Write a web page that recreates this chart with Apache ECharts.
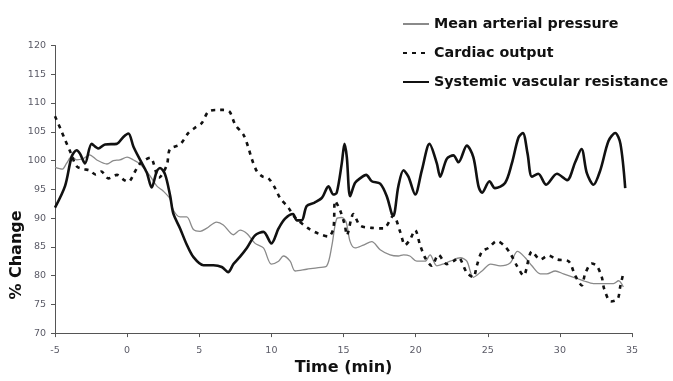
<!DOCTYPE html>
<html>
<head>
<meta charset="utf-8">
<script src="https://cdn.jsdelivr.net/npm/echarts@6/dist/echarts.min.js"></script>
<style>
  html, body { margin: 0; padding: 0; background: #fff; }
  #chart { width: 673px; height: 381px; }
</style>
</head>
<body>
<div id="chart"></div>
<script>
// time (min) and % change
const mapTime = [-5, -4.5, -4.2, -3.84, -3.5, -3.0, -2.6, -2.1, -1.4, -0.95, -0.5, 0, 0.44, 0.9, 1.6, 2.05, 2.5, 2.98, 3.2, 3.67,
  4.13, 4.6, 5.06, 5.5, 6.2, 6.67, 7.37, 7.83, 8.3, 8.87, 9.45, 10.0, 10.5, 10.83, 11.3, 11.65, 12.45, 13.26, 13.84, 14.2,
  14.53, 14.88, 15.18, 15.46, 15.8, 16.38, 16.96, 17.54, 18.23, 18.8, 19.16, 19.6, 20.08, 20.66, 21.0, 21.47, 21.9, 22.4, 23.1, 23.55,
  24.0, 24.6, 25.2, 25.86, 26.55, 27.06, 27.6, 28.06, 28.64, 29.1, 29.68, 30.25, 30.95, 31.64, 32.33, 33.03, 33.72, 34.07, 34.4];
const mapValue = [98.8, 98.5, 99.5, 100.7, 100.1, 100.4, 101.0, 100.1, 99.4, 100.0, 100.1, 100.6, 100.1, 99.4, 97.3, 95.6, 94.7, 93.3, 91.4, 90.2,
  90.2, 88.0, 87.7, 88.2, 89.3, 88.8, 87.1, 87.9, 87.3, 85.6, 84.8, 82.0, 82.5, 83.4, 82.5, 80.8, 81.1, 81.4, 81.7, 85.3,
  89.9, 90.1, 89.3, 85.9, 84.8, 85.3, 85.9, 84.5, 83.6, 83.4, 83.6, 83.4, 82.5, 82.5, 83.6, 81.7, 82.0, 82.5, 83.1, 82.5,
  79.7, 80.8, 82.0, 81.7, 82.2, 84.2, 83.1, 81.7, 80.3, 80.3, 80.8, 80.3, 79.7, 79.1, 78.6, 78.6, 78.6, 79.1, 78.0];

const coTime = [-5, -4.6, -4.3, -3.9, -3.5, -3.0, -2.6, -2.2, -1.8, -1.3, -0.7, -0.26, 0.08, 0.55, 0.9, 1.6, 2.2, 2.75, 2.97, 3.67,
  4.25, 4.7, 5.17, 5.63, 6.2, 6.67, 7.1, 7.5, 8.06, 8.4, 8.64, 9.0, 9.4, 9.8, 10.26, 10.6, 11.18, 11.64, 12.57, 13.26,
  13.96, 14.3, 14.42, 14.77, 15.1, 15.23, 15.69, 16.15, 16.96, 17.77, 18.46, 18.93, 19.27, 19.6, 19.97, 20.31, 20.66, 21.12, 21.58, 22.16,
  22.62, 22.97, 23.55, 24.0, 24.24, 24.6, 25.05, 25.63, 26.1, 26.55, 27.02, 27.48, 28.06, 28.64, 29.21, 29.8, 30.6, 31.06, 31.52, 31.75,
  32.2, 32.56, 32.91, 33.07, 33.53, 34.0, 34.18, 34.37];
const coValue = [107.7, 105.4, 103.6, 101.3, 99.0, 98.5, 98.3, 97.6, 98.1, 96.9, 97.5, 96.7, 96.3, 98.1, 99.5, 100.5, 97.0, 99.2, 102.0, 102.8,
  104.8, 105.7, 106.5, 108.5, 108.8, 108.8, 108.5, 106.2, 104.5, 102.3, 100.3, 98.1, 97.2, 96.9, 95.2, 93.5, 91.8, 90.1, 88.2, 87.3,
  86.8, 88.2, 93.0, 91.3, 88.7, 87.0, 90.7, 88.7, 88.3, 88.2, 90.4, 87.6, 85.3, 86.2, 87.9, 85.3, 83.1, 81.7, 83.6, 82.0,
  82.5, 83.1, 80.5, 79.7, 81.7, 84.2, 84.8, 86.0, 85.3, 83.9, 81.7, 80.0, 84.2, 82.8, 83.5, 82.8, 82.5, 80.0, 78.3, 80.3,
  82.1, 81.7, 79.7, 77.7, 75.5, 75.9, 78.0, 80.1];

const svrTime = [-5, -4.3, -3.84, -3.5, -3.27, -2.92, -2.46, -2.0, -1.53, -0.72, -0.26, 0.09, 0.44, 0.9, 1.36, 1.7, 2.05, 2.28, 2.63, 2.98,
  3.2, 3.67, 4.13, 4.6, 5.29, 5.98, 6.56, 7.0, 7.37, 7.83, 8.3, 8.87, 9.45, 10.0, 10.5, 10.95, 11.5, 11.76, 12.1, 12.45,
  13.0, 13.5, 13.96, 14.3, 14.53, 14.88, 15.07, 15.23, 15.46, 15.8, 16.15, 16.57, 16.96, 17.54, 18.0, 18.35, 18.46, 18.8, 19.16, 19.5,
  19.97, 20.43, 20.96, 21.47, 21.7, 22.16, 22.62, 22.97, 23.55, 24.0, 24.36, 24.6, 25.12, 25.5, 26.2, 26.67, 27.13, 27.43, 27.76, 28.06,
  28.5, 29.05, 29.8, 30.5, 31.06, 31.5, 31.87, 32.33, 32.8, 33.37, 33.84, 34.2, 34.53];
const svrValue = [91.8, 95.6, 100.7, 101.8, 101.2, 99.5, 102.9, 102.1, 102.8, 102.9, 104.1, 104.7, 102.4, 100.1, 97.9, 95.3, 98.1, 98.7, 97.6, 93.9,
  90.8, 88.2, 85.4, 83.2, 81.8, 81.8, 81.5, 80.6, 82.0, 83.3, 84.8, 87.0, 87.6, 85.6, 88.2, 89.9, 90.7, 89.6, 89.6, 92.1,
  92.7, 93.5, 95.5, 94.1, 94.4, 99.5, 102.9, 100.6, 93.8, 96.1, 96.9, 97.5, 96.4, 96.0, 93.8, 90.7, 90.4, 95.5, 98.3, 97.2,
  94.1, 98.3, 102.9, 99.5, 97.2, 100.3, 100.9, 99.7, 102.6, 100.6, 95.5, 94.4, 96.4, 95.2, 96.1, 99.5, 104.0, 104.8, 101.2, 97.2,
  97.7, 95.8, 97.7, 96.6, 99.7, 102.0, 97.8, 95.8, 98.3, 103.4, 104.8, 102.9, 95.2];

const seriesNames = ['Mean arterial pressure', 'Cardiac output', 'Systemic vascular resistance'];

const pairs = (xs, ys) => xs.map((x, i) => [x, ys[i]]);

const chart = echarts.init(document.getElementById('chart'));
const font = 'DejaVu Sans';

chart.setOption({
  animation: false,
  backgroundColor: '#fff',
  grid: {left: 55, right: 41, top: 45.5, bottom: 39.5, containLabel: false},
  legend: {
    orient: 'vertical',
    left: 402,
    top: 17,
    padding: 0,
    itemGap: 15,
    itemWidth: 26,
    itemHeight: 14,
    itemStyle: {opacity: 0},
    data: seriesNames,
    textStyle: {fontFamily: font, fontWeight: 'bold', fontSize: 14.3, color: '#111'}
  },
  xAxis: {
    type: 'value',
    min: -5, max: 35, interval: 5,
    name: 'Time (min)',
    nameLocation: 'middle',
    nameGap: 22,
    nameTextStyle: {fontFamily: font, fontWeight: 'bold', fontSize: 16, color: '#111'},
    axisLine: {onZero: false, lineStyle: {color: '#555', width: 1}},
    axisTick: {show: true, length: 4, lineStyle: {color: '#555'}},
    axisLabel: {fontFamily: font, fontSize: 9.5, color: '#5a5a66', margin: 12},
    splitLine: {show: false}
  },
  yAxis: {
    type: 'value',
    min: 70, max: 120, interval: 5,
    axisLine: {show: true, onZero: false, lineStyle: {color: '#555', width: 1}},
    axisTick: {show: true, length: 4, lineStyle: {color: '#555'}},
    axisLabel: {fontFamily: font, fontSize: 9.5, color: '#5a5a66', margin: 9},
    splitLine: {show: false}
  },
  graphic: [{
    type: 'text',
    x: 17, y: 255,
    rotation: Math.PI / 2,
    style: {text: '% Change', fontFamily: font, fontWeight: 'bold', fontSize: 16, fill: '#111',
            textAlign: 'center', textVerticalAlign: 'middle'}
  }],
  series: [
    {
      name: seriesNames[0], type: 'line', symbol: 'none', smooth: 0.3,
      data: pairs(mapTime, mapValue),
      lineStyle: {color: '#8a8a8a', width: 1.3},
      itemStyle: {color: '#8a8a8a'}
    },
    {
      name: seriesNames[1], type: 'line', symbol: 'none', smooth: 0.3,
      data: pairs(coTime, coValue),
      lineStyle: {color: '#111', width: 2.6, type: [4, 5]},
      itemStyle: {color: '#111'}
    },
    {
      name: seriesNames[2], type: 'line', symbol: 'none', smooth: 0.3,
      data: pairs(svrTime, svrValue),
      lineStyle: {color: '#111', width: 2.6},
      itemStyle: {color: '#111'}
    }
  ]
});
</script>
</body>
</html>
